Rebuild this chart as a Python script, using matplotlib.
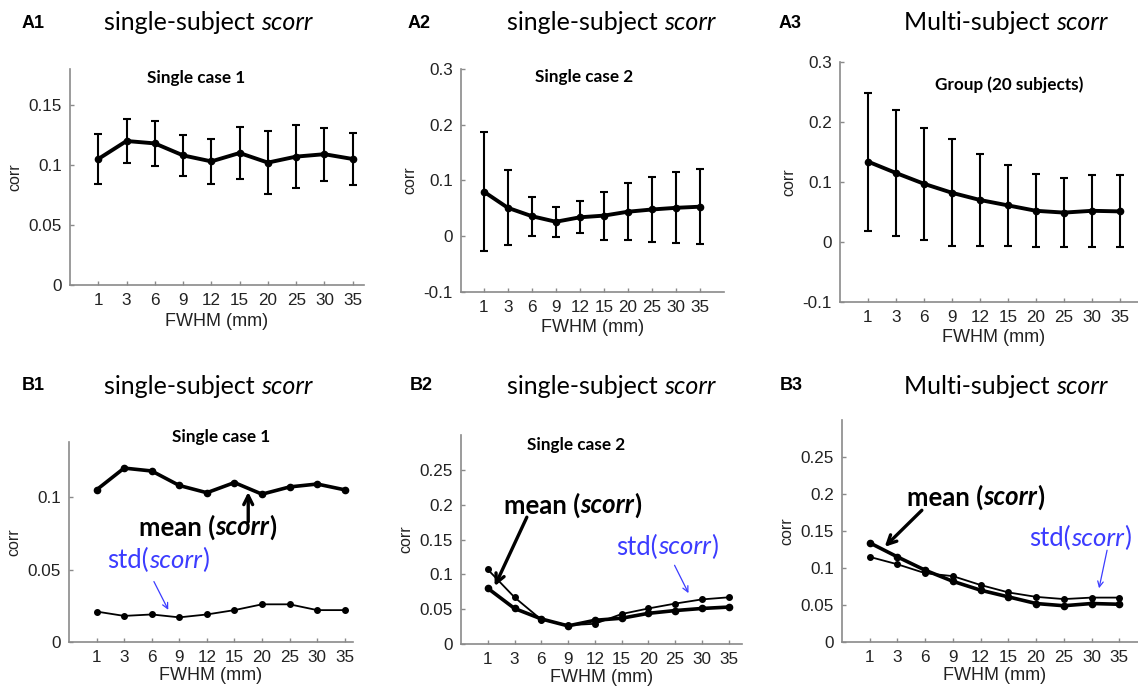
import numpy as np
import matplotlib
matplotlib.use("Agg")
import matplotlib.pyplot as plt

W, H = 1138, 686

fwhm_labels = ["1", "3", "6", "9", "12", "15", "20", "25", "30", "35"]

case1_mean = [0.105, 0.120, 0.118, 0.108, 0.103, 0.110, 0.102, 0.107, 0.109, 0.105]
case1_std = [0.021, 0.018, 0.019, 0.017, 0.019, 0.022, 0.026, 0.026, 0.022, 0.022]

case2_mean = [0.080, 0.051, 0.036, 0.026, 0.034, 0.037, 0.044, 0.048, 0.051, 0.053]
case2_std = [0.107, 0.067, 0.035, 0.027, 0.029, 0.043, 0.051, 0.058, 0.064, 0.067]

group_mean = [0.134, 0.115, 0.097, 0.082, 0.070, 0.061, 0.052, 0.049, 0.052, 0.051]
group_std = [0.115, 0.105, 0.093, 0.089, 0.077, 0.067, 0.061, 0.058, 0.060, 0.060]

SPINE = "#8a8a8a"
BLUE = "#3c3cff"
CAL = "Lato"
ARIAL = "Liberation Sans"

plt.rcParams["font.family"] = ARIAL

fig = plt.figure(figsize=(W / 100, H / 100), dpi=100)
renderer = fig.canvas.get_renderer()


def px_axes(left, top, right, bottom):
    return fig.add_axes([left / W, 1 - bottom / H, (right - left) / W, (bottom - top) / H])


def rich_text(x, y, parts, size, color="black"):
    # parts: (text, style, weight); centred at pixel (x, y)
    texts = []
    for s, style, weight in parts:
        t = fig.text(0, 1 - y / H, s, fontsize=size, family=CAL, style=style,
                     weight=weight, va="center", ha="left", color=color)
        texts.append(t)
    widths = [t.get_window_extent(renderer).width for t in texts]
    x0 = x - sum(widths) / 2
    for t, w in zip(texts, widths):
        t.set_x(x0 / W)
        x0 += w


def style_axes(ax, xlim, ylim, yticks, xpad):
    ax.set_xlim(*xlim)
    ax.set_ylim(*ylim)
    x = np.arange(1, len(fwhm_labels) + 1)
    ax.set_xticks(x)
    ax.set_xticklabels(fwhm_labels)
    ax.set_yticks(yticks)
    ax.set_yticklabels([fmt(v) for v in yticks])
    for s in ["top", "right"]:
        ax.spines[s].set_visible(False)
    for s in ["left", "bottom"]:
        ax.spines[s].set_color(SPINE)
        ax.spines[s].set_linewidth(1.2)
    ax.tick_params(direction="in", length=3, width=1, color=SPINE,
                   labelsize=12.3, labelcolor="#222222", pad=6)
    ax.set_ylabel("corr", fontsize=11.5, color="#222222", labelpad=4)
    ax.set_xlabel("FWHM (mm)", fontsize=13, color="#222222", labelpad=xpad)
    ax.patch.set_alpha(0)


def fmt(v):
    if abs(v) < 1e-9:
        return "0"
    return ("%.2f" % v).rstrip("0")


x = np.arange(1, len(fwhm_labels) + 1)

# ---------------- row A: mean with std error bars ----------------
panels_a = [
    (case1_mean, case1_std, (70, 69, 364, 285), (0, 10.4), (0, 0.18),
     [0, 0.05, 0.1, 0.15]),
    (case2_mean, case2_std, (461, 69, 724, 292), (0.05, 11), (-0.1, 0.3),
     [-0.1, 0, 0.1, 0.2, 0.3]),
    (group_mean, group_std, (840, 62, 1148, 302), (0, 11), (-0.1, 0.3),
     [-0.1, 0, 0.1, 0.2, 0.3]),
]
for mean, std, box, xl, yl, yt in panels_a:
    ax = px_axes(*box)
    ax.errorbar(x, mean, yerr=std, color="black", lw=2.8, elinewidth=1.5,
                capsize=3, capthick=1.5, marker="o", ms=4.5)
    style_axes(ax, xl, yl, yt, 3)

# ---------------- row B: mean and std curves ----------------
panels_b = [
    (case1_mean, case1_std, (69, 442, 353, 642), (0, 10.3), (0, 0.138),
     [0, 0.05, 0.1]),
    (case2_mean, case2_std, (461, 435, 742, 644), (0, 10.5), (0, 0.3),
     [0, 0.05, 0.1, 0.15, 0.2, 0.25]),
    (group_mean, group_std, (842, 420, 1147, 642), (0, 11), (0, 0.3),
     [0, 0.05, 0.1, 0.15, 0.2, 0.25]),
]
axes_b = []
for mean, std, box, xl, yl, yt in panels_b:
    ax = px_axes(*box)
    ax.plot(x, std, color="black", lw=1.3, marker="o", ms=4)
    ax.plot(x, mean, color="black", lw=2.6, marker="o", ms=4.5)
    style_axes(ax, xl, yl, yt, 1.5)
    axes_b.append(ax)

# arrows (data coordinates: tail -> tip)
mean_arrows = [((6.5, 0.083), (6.5, 0.1035)),
               ((2.46, 0.182), (1.26, 0.083)),
               ((2.88, 0.178), (1.54, 0.1286))]
std_arrows = [((3.08, 0.0417), (3.6, 0.0222)),
              ((7.98, 0.113), (8.5, 0.073)),
              ((9.56, 0.124), (9.27, 0.0726))]
for ax, (t0, t1), (s0, s1) in zip(axes_b, mean_arrows, std_arrows):
    ax.annotate("", xy=t1, xytext=t0,
                arrowprops=dict(arrowstyle="->", color="black", lw=2.4,
                                mutation_scale=16, shrinkA=0, shrinkB=0))
    ax.annotate("", xy=s1, xytext=s0,
                arrowprops=dict(arrowstyle="->", color=BLUE, lw=0.9,
                                mutation_scale=10, shrinkA=0, shrinkB=0))

mean_parts = [("mean (", "normal", "bold"), ("scorr", "italic", "bold"),
              (")", "normal", "bold")]
std_parts = [("std(", "normal", "normal"), ("scorr", "italic", "normal"),
             (")", "normal", "normal")]
for (mx, my), (sx, sy) in [((208, 527), (158, 560)),
                           ((573, 505), (667, 547)),
                           ((976, 497), (1080, 538))]:
    rich_text(mx, my, mean_parts, 18.5)
    rich_text(sx, sy, std_parts, 18.5, color=BLUE)

# ---------------- headers ----------------
headers = [("A1", 22, 23, 208, "single-subject "),
           ("A2", 408, 23, 611, "single-subject "),
           ("A3", 779, 23, 1006, "Multi-subject "),
           ("B1", 22, 386, 208, "single-subject "),
           ("B2", 410, 386, 611, "single-subject "),
           ("B3", 780, 386, 1006, "Multi-subject ")]
for lab, lx, ly, tx, title in headers:
    fig.text(lx / W, 1 - ly / H, lab, fontsize=13, weight="bold",
             family=ARIAL, va="center", ha="left")
    rich_text(tx, ly, [(title, "normal", "normal"), ("scorr", "italic", "normal")], 18)

subtitles = [("Single case 1", 196, 78), ("Single case 2", 584, 77),
             ("Group (20 subjects)", 1009, 85), ("Single case 1", 221, 437),
             ("Single case 2", 576, 445)]
for s, sx, sy in subtitles:
    fig.text(sx / W, 1 - sy / H, s, fontsize=12.3, weight="bold", family=CAL,
             ha="center", va="center")

fig.savefig("out.png", dpi=100)
